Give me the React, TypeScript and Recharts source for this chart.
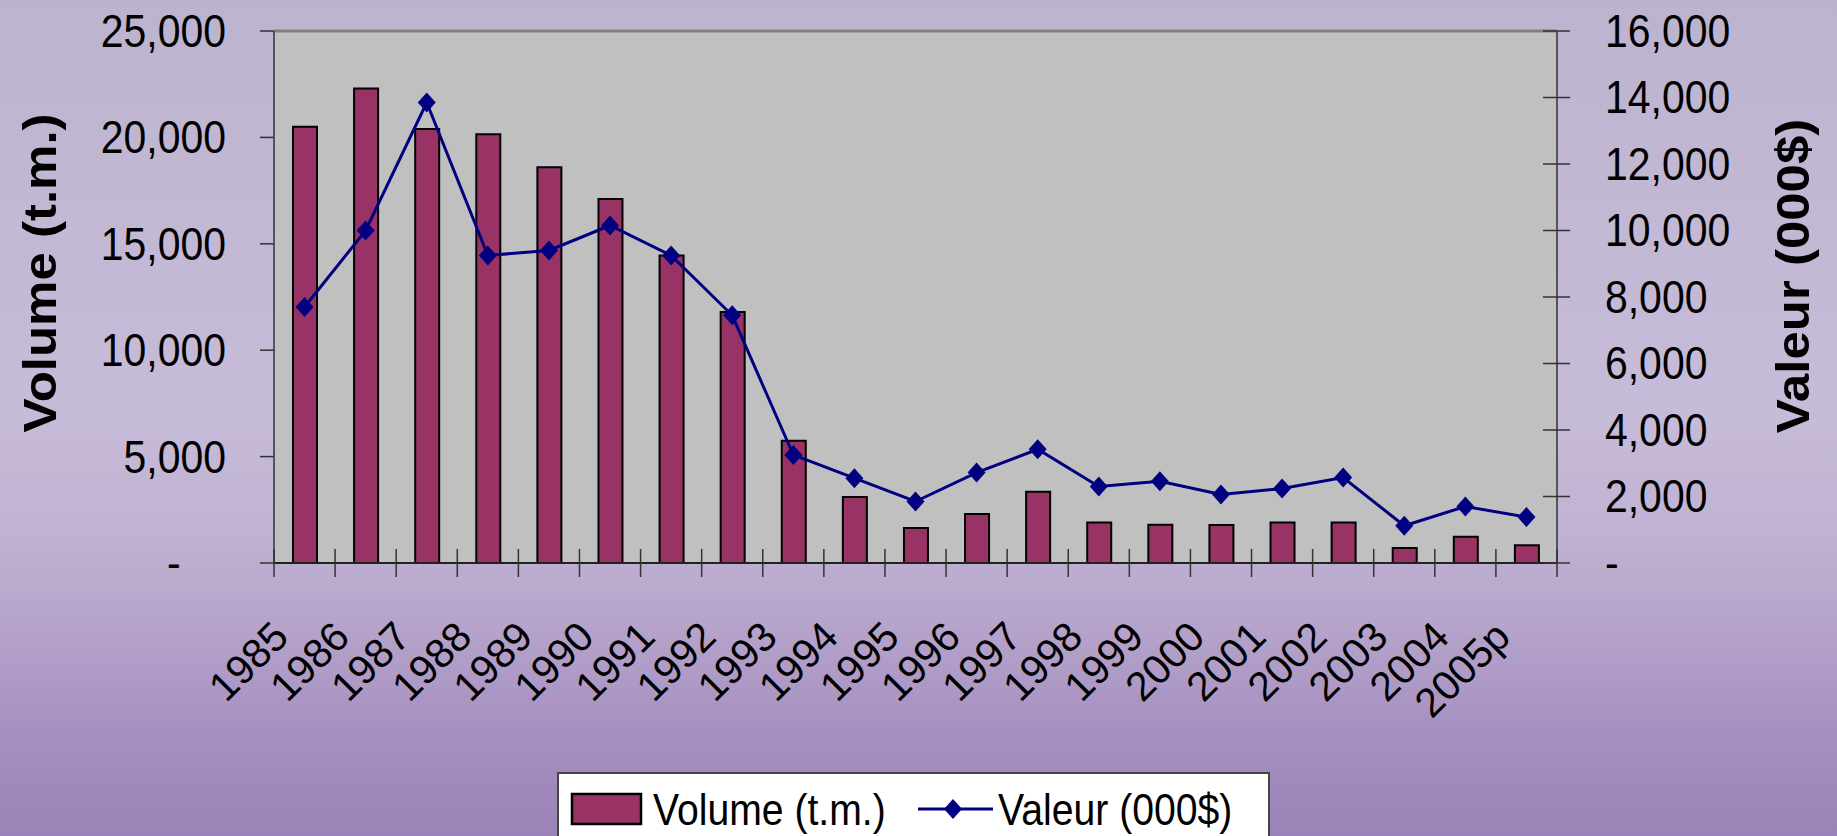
import React from "react";
import {
  ComposedChart,
  Bar,
  Line,
  XAxis,
  YAxis,
  CartesianGrid,
  ReferenceLine,
  Legend,
} from "recharts";

const years = [
  "1985", "1986", "1987", "1988", "1989", "1990", "1991", "1992", "1993", "1994",
  "1995", "1996", "1997", "1998", "1999", "2000", "2001", "2002", "2003", "2004", "2005p",
];

// Volume (t.m.) – left axis
const volume = [
  20500, 22300, 20400, 20150, 18600, 17100, 14450, 11800, 5750, 3100,
  1650, 2300, 3350, 1900, 1800, 1780, 1900, 1900, 700, 1230, 830,
];

// Valeur (000$) – right axis
const valeur = [
  7700, 10000, 13850, 9250, 9400, 10150, 9250, 7450, 3250, 2550,
  1850, 2720, 3420, 2300, 2460, 2060, 2240, 2570, 1120, 1700, 1380,
];

const leftTicks = [0, 5000, 10000, 15000, 20000, 25000];
const rightTicks = [0, 2000, 4000, 6000, 8000, 10000, 12000, 14000, 16000];

const data = years.map((year, i) => ({ year, volume: volume[i], valeur: valeur[i] }));

const W = 1837;
const H = 836;
const PLOT_LEFT = 274;
const PLOT_RIGHT = 1557;
const PLOT_TOP = 31;
const PLOT_BOTTOM = 563;
const BAND = (PLOT_RIGHT - PLOT_LEFT) / years.length;

const FONT = '"Liberation Sans", Arial, sans-serif';
const BAR_COLOR = "#993366";
const LINE_COLOR = "#000080";
// the original picture is squeezed a bit horizontally, so text is too
const SQ = 0.89;
const squeeze = (x: number, y: number, extra = "") =>
  `translate(${x}, ${y}) scale(${SQ}, 1) ${extra} translate(${-x}, ${-y})`;

const fmt = (v: number) => (v === 0 ? "-" : v.toLocaleString("en-US"));

function LeftTick(props: any) {
  const { x, y, payload } = props;
  const label = payload.value === 0 ? "-\u00A0\u00A0\u00A0\u00A0" : fmt(payload.value);
  const tx = x - 48;
  return (
    <g>
      <line x1={x - 14} x2={x} y1={y} y2={y} stroke="#333" strokeWidth={1.5} />
      <text
        x={tx}
        y={y}
        dy={16}
        textAnchor="end"
        fontSize={46}
        fontFamily={FONT}
        fill="#000"
        transform={squeeze(tx, y)}
      >
        {label}
      </text>
    </g>
  );
}

function RightTick(props: any) {
  const { x, y, payload } = props;
  const tx = x + 48;
  return (
    <g>
      <line x1={x - 14} x2={x + 13} y1={y} y2={y} stroke="#333" strokeWidth={1.5} />
      <text
        x={tx}
        y={y}
        dy={16}
        textAnchor="start"
        fontSize={46}
        fontFamily={FONT}
        fill="#000"
        transform={squeeze(tx, y)}
      >
        {fmt(payload.value)}
      </text>
    </g>
  );
}

function YearTick(props: any) {
  const { x, y, payload, index } = props;
  const tx = x - 14;
  const ty = y + 76;
  const last = index === years.length - 1;
  return (
    <g>
      <line x1={x - BAND / 2} x2={x - BAND / 2} y1={y - 14} y2={y + 14} stroke="#333" strokeWidth={1.5} />
      {last && (
        <line x1={x + BAND / 2} x2={x + BAND / 2} y1={y - 14} y2={y + 14} stroke="#333" strokeWidth={1.5} />
      )}
      <text
        x={tx}
        y={ty}
        textAnchor="end"
        fontSize={41}
        fontFamily={FONT}
        fill="#000"
        transform={`rotate(-45, ${tx}, ${ty})`}
      >
        {payload.value}
      </text>
    </g>
  );
}

function Diamond(props: any) {
  const { cx, cy, index } = props;
  if (cx == null || cy == null) return <g key={`d-${index}`} />;
  return (
    <polygon
      key={`d-${index}`}
      points={`${cx},${cy - 10} ${cx + 9},${cy} ${cx},${cy + 10} ${cx - 9},${cy}`}
      fill={LINE_COLOR}
    />
  );
}

function AxisTitle(props: any) {
  const { tx, ty, text } = props;
  return (
    <text
      x={tx}
      y={ty}
      textAnchor="middle"
      dominantBaseline="central"
      fontSize={51}
      fontWeight="bold"
      fontFamily={FONT}
      fill="#000"
      transform={squeeze(tx, ty, "rotate(-90)")}
    >
      {text}
    </text>
  );
}

function LegendBox() {
  return (
    <svg width={720} height={70} style={{ display: "block" }}>
      <rect x={1} y={1} width={711} height={80} fill="#fff" stroke="#444" strokeWidth={2} />
      <rect x={15} y={22} width={69} height={30} fill={BAR_COLOR} stroke="#000" strokeWidth={2.5} />
      <text x={96} y={53} fontSize={44} fontFamily={FONT} fill="#000" transform={squeeze(96, 53)}>
        Volume (t.m.)
      </text>
      <line x1={361} x2={436} y1={37} y2={37} stroke={LINE_COLOR} strokeWidth={3} />
      <polygon points="396,27 405,37 396,47 387,37" fill={LINE_COLOR} />
      <text x={441} y={53} fontSize={44} fontFamily={FONT} fill="#000" transform={squeeze(441, 53)}>
        Valeur (000$)
      </text>
    </svg>
  );
}

export default function App() {
  return (
    <div
      style={{
        position: "absolute",
        left: 0,
        top: 0,
        width: W,
        height: H,
        overflow: "hidden",
        background:
          "linear-gradient(180deg, #bcb3cf 0%, #c2b8d4 25%, #c6bbd8 50%, #bfb1d2 65%, #b29fc8 78%, #a68fc0 88%, #9b82b8 100%)",
      }}
    >
      <ComposedChart
        width={W}
        height={H}
        data={data}
        margin={{ top: PLOT_TOP, right: 0, bottom: 0, left: 0 }}
      >
        <CartesianGrid yAxisId="left" fill="#c0c0c0" horizontal={false} vertical={false} />
        <XAxis
          dataKey="year"
          interval={0}
          height={H - PLOT_BOTTOM}
          tickLine={false}
          tickSize={0}
          tickMargin={0}
          axisLine={{ stroke: "#222", strokeWidth: 2 }}
          tick={<YearTick />}
        />
        <YAxis
          yAxisId="left"
          orientation="left"
          width={PLOT_LEFT}
          domain={[0, 25000]}
          ticks={leftTicks}
          interval={0}
          tickLine={false}
          tickSize={0}
          tickMargin={0}
          axisLine={{ stroke: "#555", strokeWidth: 2 }}
          tick={<LeftTick />}
          label={<AxisTitle tx={40} ty={273} text="Volume (t.m.)" />}
        />
        <YAxis
          yAxisId="right"
          orientation="right"
          width={W - PLOT_RIGHT}
          domain={[0, 16000]}
          ticks={rightTicks}
          interval={0}
          tickLine={false}
          tickSize={0}
          tickMargin={0}
          axisLine={{ stroke: "#555", strokeWidth: 2 }}
          tick={<RightTick />}
          label={<AxisTitle tx={1793} ty={276} text="Valeur (000$)" />}
        />
        <ReferenceLine yAxisId="left" y={25000} stroke="#808080" strokeWidth={3} />
        <Bar
          yAxisId="left"
          dataKey="volume"
          name="Volume (t.m.)"
          fill={BAR_COLOR}
          stroke="#000"
          strokeWidth={2}
          barSize={24}
          isAnimationActive={false}
        />
        <Line
          yAxisId="right"
          dataKey="valeur"
          name="Valeur (000$)"
          stroke={LINE_COLOR}
          strokeWidth={3}
          dot={Diamond}
          activeDot={false}
          isAnimationActive={false}
        />
        <Legend
          layout="vertical"
          verticalAlign="middle"
          align="center"
          content={() => <LegendBox />}
          wrapperStyle={{ position: "absolute", left: 557, top: 772, width: 720, height: 70 }}
        />
      </ComposedChart>
    </div>
  );
}
